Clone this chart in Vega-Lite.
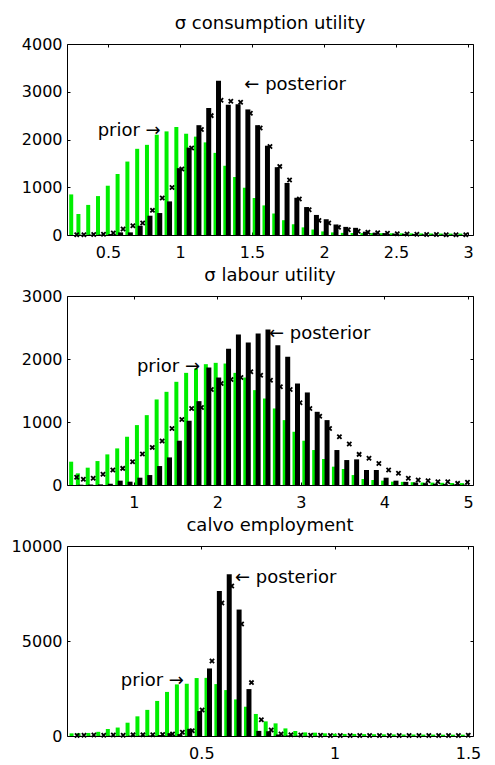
{
  "$schema": "https://vega.github.io/schema/vega-lite/v6.json",
  "padding": {"left": 10, "top": 14, "right": 16, "bottom": 5},
  "background": "white",
  "spacing": 61,
  "bounds": "flush",
  "config": {
    "font": "DejaVu Sans",
    "view": {"stroke": "black", "strokeWidth": 1},
    "axis": {"grid": false, "domain": false, "title": null, "tickColor": "black", "tickSize": -3, "labelColor": "black", "labelFontSize": 16, "labelFont": "DejaVu Sans", "labelFlush": false, "labelOverlap": false},
    "title": {"font": "DejaVu Sans", "fontSize": 18, "fontWeight": "normal", "color": "black", "anchor": "middle", "baseline": "alphabetic", "offset": 3}
  },
  "datasets": {
    "p1": [
      {"c": 0.255, "prior": 850, "post": 0, "mark": 5},
      {"c": 0.305, "prior": 440, "post": 5, "mark": 5},
      {"c": 0.373, "prior": 630, "post": 8, "mark": 10},
      {"c": 0.441, "prior": 815, "post": 10, "mark": 15},
      {"c": 0.509, "prior": 1032, "post": 20, "mark": 40},
      {"c": 0.577, "prior": 1277, "post": 55, "mark": 125},
      {"c": 0.645, "prior": 1538, "post": 55, "mark": 194},
      {"c": 0.713, "prior": 1805, "post": 194, "mark": 250},
      {"c": 0.781, "prior": 1888, "post": 404, "mark": 516},
      {"c": 0.849, "prior": 2100, "post": 460, "mark": 775},
      {"c": 0.917, "prior": 2170, "post": 704, "mark": 997},
      {"c": 0.985, "prior": 2262, "post": 1400, "mark": 1380},
      {"c": 1.053, "prior": 2121, "post": 1830, "mark": 1822},
      {"c": 1.121, "prior": 2060, "post": 2300, "mark": 2210},
      {"c": 1.189, "prior": 1940, "post": 2660, "mark": 2500},
      {"c": 1.257, "prior": 1720, "post": 3230, "mark": 2820},
      {"c": 1.325, "prior": 1450, "post": 2730, "mark": 2800},
      {"c": 1.393, "prior": 1215, "post": 2740, "mark": 2780},
      {"c": 1.461, "prior": 990, "post": 2630, "mark": 2550},
      {"c": 1.529, "prior": 775, "post": 2300, "mark": 2240},
      {"c": 1.597, "prior": 620, "post": 1870, "mark": 1855},
      {"c": 1.665, "prior": 450, "post": 1420, "mark": 1437},
      {"c": 1.733, "prior": 310, "post": 1090, "mark": 1150},
      {"c": 1.801, "prior": 225, "post": 780, "mark": 754},
      {"c": 1.869, "prior": 160, "post": 585, "mark": 530},
      {"c": 1.937, "prior": 115, "post": 420, "mark": 306},
      {"c": 2.005, "prior": 75, "post": 330, "mark": 251},
      {"c": 2.073, "prior": 55, "post": 220, "mark": 160},
      {"c": 2.141, "prior": 45, "post": 170, "mark": 110},
      {"c": 2.209, "prior": 42, "post": 150, "mark": 80},
      {"c": 2.277, "prior": 40, "post": 70, "mark": 60},
      {"c": 2.345, "prior": 40, "post": 50, "mark": 45},
      {"c": 2.413, "prior": 38, "post": 40, "mark": 35},
      {"c": 2.481, "prior": 36, "post": 30, "mark": 25},
      {"c": 2.549, "prior": 35, "post": 25, "mark": 20},
      {"c": 2.617, "prior": 34, "post": 20, "mark": 15},
      {"c": 2.685, "prior": 33, "post": 15, "mark": 10},
      {"c": 2.753, "prior": 32, "post": 12, "mark": 10},
      {"c": 2.821, "prior": 31, "post": 10, "mark": 5},
      {"c": 2.889, "prior": 30, "post": 8, "mark": 5},
      {"c": 2.957, "prior": 30, "post": 5, "mark": 5}
    ],
    "a1": [
      {"x": 0.428, "y": 2184, "label": "prior  →"},
      {"x": 1.447, "y": 3148, "label": "←  posterior"}
    ],
    "p2": [
      {"c": 0.268, "prior": 370, "post": 0, "mark": 122},
      {"c": 0.348, "prior": 185, "post": 5, "mark": 90},
      {"c": 0.466, "prior": 275, "post": 8, "mark": 106},
      {"c": 0.583, "prior": 380, "post": 10, "mark": 169},
      {"c": 0.701, "prior": 486, "post": 20, "mark": 238},
      {"c": 0.819, "prior": 581, "post": 69, "mark": 264},
      {"c": 0.937, "prior": 766, "post": 53, "mark": 370},
      {"c": 1.055, "prior": 951, "post": 116, "mark": 491},
      {"c": 1.173, "prior": 1109, "post": 158, "mark": 597},
      {"c": 1.291, "prior": 1358, "post": 301, "mark": 697},
      {"c": 1.409, "prior": 1479, "post": 438, "mark": 898},
      {"c": 1.527, "prior": 1638, "post": 703, "mark": 1041},
      {"c": 1.644, "prior": 1780, "post": 1020, "mark": 1215},
      {"c": 1.762, "prior": 1849, "post": 1331, "mark": 1231},
      {"c": 1.880, "prior": 1918, "post": 1865, "mark": 1516},
      {"c": 1.998, "prior": 1939, "post": 1706, "mark": 1611},
      {"c": 2.116, "prior": 1928, "post": 2161, "mark": 1675},
      {"c": 2.234, "prior": 1780, "post": 2388, "mark": 1706},
      {"c": 2.352, "prior": 1706, "post": 2261, "mark": 1796},
      {"c": 2.470, "prior": 1506, "post": 2404, "mark": 1743},
      {"c": 2.588, "prior": 1373, "post": 2467, "mark": 1664},
      {"c": 2.706, "prior": 1215, "post": 2219, "mark": 1558},
      {"c": 2.824, "prior": 1030, "post": 2034, "mark": 1516},
      {"c": 2.941, "prior": 845, "post": 1611, "mark": 1305},
      {"c": 3.059, "prior": 703, "post": 1469, "mark": 1215},
      {"c": 3.177, "prior": 555, "post": 1162, "mark": 1093},
      {"c": 3.295, "prior": 412, "post": 1030, "mark": 898},
      {"c": 3.413, "prior": 291, "post": 555, "mark": 766},
      {"c": 3.531, "prior": 254, "post": 396, "mark": 650},
      {"c": 3.649, "prior": 158, "post": 407, "mark": 486},
      {"c": 3.767, "prior": 95, "post": 238, "mark": 423},
      {"c": 3.885, "prior": 79, "post": 238, "mark": 343},
      {"c": 4.002, "prior": 69, "post": 116, "mark": 238},
      {"c": 4.120, "prior": 53, "post": 69, "mark": 185},
      {"c": 4.238, "prior": 50, "post": 50, "mark": 106},
      {"c": 4.356, "prior": 45, "post": 40, "mark": 79},
      {"c": 4.474, "prior": 40, "post": 30, "mark": 69},
      {"c": 4.592, "prior": 38, "post": 20, "mark": 53},
      {"c": 4.710, "prior": 35, "post": 15, "mark": 53},
      {"c": 4.828, "prior": 32, "post": 10, "mark": 26},
      {"c": 4.946, "prior": 30, "post": 8, "mark": 42}
    ],
    "a2": [
      {"x": 1.037, "y": 1875, "label": "prior  →"},
      {"x": 2.617, "y": 2404, "label": "←  posterior"}
    ],
    "p3": [
      {"c": 0.019, "prior": 140, "post": 0, "mark": 30},
      {"c": 0.045, "prior": 150, "post": 10, "mark": 40},
      {"c": 0.082, "prior": 160, "post": 10, "mark": 50},
      {"c": 0.119, "prior": 220, "post": 10, "mark": 40},
      {"c": 0.155, "prior": 370, "post": 15, "mark": 50},
      {"c": 0.192, "prior": 445, "post": 15, "mark": 40},
      {"c": 0.229, "prior": 700, "post": 20, "mark": 60},
      {"c": 0.266, "prior": 1035, "post": 20, "mark": 60},
      {"c": 0.303, "prior": 1375, "post": 30, "mark": 70},
      {"c": 0.340, "prior": 1845, "post": 50, "mark": 80},
      {"c": 0.377, "prior": 2320, "post": 150, "mark": 100},
      {"c": 0.414, "prior": 2716, "post": 100, "mark": 200},
      {"c": 0.451, "prior": 2750, "post": 380, "mark": 280},
      {"c": 0.488, "prior": 3050, "post": 1313, "mark": 1366},
      {"c": 0.525, "prior": 3060, "post": 3555, "mark": 3950},
      {"c": 0.562, "prior": 2732, "post": 7636, "mark": 7005},
      {"c": 0.599, "prior": 2417, "post": 8511, "mark": 7898},
      {"c": 0.636, "prior": 1926, "post": 6655, "mark": 5900},
      {"c": 0.673, "prior": 1541, "post": 2469, "mark": 2810},
      {"c": 0.710, "prior": 1160, "post": 270, "mark": 860},
      {"c": 0.747, "prior": 770, "post": 250, "mark": 320},
      {"c": 0.784, "prior": 665, "post": 80, "mark": 100},
      {"c": 0.821, "prior": 400, "post": 30, "mark": 60},
      {"c": 0.858, "prior": 263, "post": 20, "mark": 50},
      {"c": 0.895, "prior": 190, "post": 10, "mark": 40},
      {"c": 0.932, "prior": 175, "post": 10, "mark": 40},
      {"c": 0.969, "prior": 140, "post": 5, "mark": 30},
      {"c": 1.006, "prior": 120, "post": 5, "mark": 30},
      {"c": 1.043, "prior": 110, "post": 5, "mark": 30},
      {"c": 1.079, "prior": 110, "post": 5, "mark": 30},
      {"c": 1.116, "prior": 100, "post": 5, "mark": 30},
      {"c": 1.153, "prior": 95, "post": 5, "mark": 30},
      {"c": 1.190, "prior": 90, "post": 5, "mark": 30},
      {"c": 1.227, "prior": 85, "post": 5, "mark": 30},
      {"c": 1.264, "prior": 80, "post": 5, "mark": 30},
      {"c": 1.301, "prior": 80, "post": 5, "mark": 30},
      {"c": 1.338, "prior": 75, "post": 5, "mark": 30},
      {"c": 1.375, "prior": 75, "post": 5, "mark": 30},
      {"c": 1.412, "prior": 70, "post": 5, "mark": 30},
      {"c": 1.449, "prior": 70, "post": 5, "mark": 30},
      {"c": 1.486, "prior": 70, "post": 5, "mark": 40}
    ],
    "a3": [
      {"x": 0.198, "y": 2889, "label": "prior  →"},
      {"x": 0.626, "y": 8335, "label": "←  posterior"}
    ]
  },
  "vconcat": [
    {
      "width": 406, "height": 191,
      "title": {"text": "σ consumption utility"},
      "data": {"name": "p1"},
      "layer": [
        {
          "mark": {"type": "bar", "orient": "vertical", "size": 4, "xOffset": -1.5, "color": "#00ee00", "clip": true},
          "encoding": {
            "x": {"field": "c", "type": "quantitative", "scale": {"domain": [0.25, 3], "nice": false, "zero": false},
                  "axis": {"orient": "bottom", "values": [0.5, 1, 1.5, 2, 2.5, 3], "format": "~g", "labelPadding": 12}},
            "y": {"field": "prior", "type": "quantitative", "scale": {"domain": [0, 4000], "nice": false},
                  "axis": {"orient": "left", "values": [0, 1000, 2000, 3000, 4000], "format": "d", "labelPadding": 8}}
          }
        },
        {
          "mark": {"type": "bar", "orient": "vertical", "size": 5, "xOffset": 1.5, "color": "#000000", "clip": true},
          "encoding": {
            "x": {"field": "c", "type": "quantitative", "scale": {"domain": [0.25, 3], "nice": false, "zero": false},
                  "axis": {"orient": "top", "values": [0.5, 1, 1.5, 2, 2.5, 3], "labels": false}},
            "y": {"field": "post", "type": "quantitative", "scale": {"domain": [0, 4000], "nice": false},
                  "axis": {"orient": "right", "values": [0, 1000, 2000, 3000, 4000], "labels": false}}
          }
        },
        {
          "mark": {"type": "point", "shape": "M-1,-1L1,1M-1,1L1,-1", "filled": false, "stroke": "black", "strokeWidth": 1.8, "size": 18, "xOffset": 4, "opacity": 1},
          "encoding": {
            "x": {"field": "c", "type": "quantitative", "scale": {"domain": [0.25, 3], "nice": false, "zero": false}, "axis": null},
            "y": {"field": "mark", "type": "quantitative", "scale": {"domain": [0, 4000], "nice": false}, "axis": null}
          }
        },
        {
          "data": {"name": "a1"},
          "mark": {"type": "text", "align": "left", "baseline": "middle", "fontSize": 18, "font": "DejaVu Sans", "color": "black"},
          "encoding": {
            "x": {"field": "x", "type": "quantitative", "scale": {"domain": [0.25, 3], "nice": false, "zero": false}, "axis": null},
            "y": {"field": "y", "type": "quantitative", "scale": {"domain": [0, 4000], "nice": false}, "axis": null},
            "text": {"field": "label"}
          }
        }
      ],
      "resolve": {"axis": {"x": "independent", "y": "independent"}}
    },
    {
      "width": 406, "height": 189,
      "title": {"text": "σ labour utility"},
      "data": {"name": "p2"},
      "layer": [
        {
          "mark": {"type": "bar", "orient": "vertical", "size": 4, "xOffset": -1.5, "color": "#00ee00", "clip": true},
          "encoding": {
            "x": {"field": "c", "type": "quantitative", "scale": {"domain": [0.26, 5], "nice": false, "zero": false},
                  "axis": {"orient": "bottom", "values": [1, 2, 3, 4, 5], "format": "~g", "labelPadding": 12}},
            "y": {"field": "prior", "type": "quantitative", "scale": {"domain": [0, 3000], "nice": false},
                  "axis": {"orient": "left", "values": [0, 1000, 2000, 3000], "format": "d", "labelPadding": 8}}
          }
        },
        {
          "mark": {"type": "bar", "orient": "vertical", "size": 5, "xOffset": 1.5, "color": "#000000", "clip": true},
          "encoding": {
            "x": {"field": "c", "type": "quantitative", "scale": {"domain": [0.26, 5], "nice": false, "zero": false},
                  "axis": {"orient": "top", "values": [1, 2, 3, 4, 5], "labels": false}},
            "y": {"field": "post", "type": "quantitative", "scale": {"domain": [0, 3000], "nice": false},
                  "axis": {"orient": "right", "values": [0, 1000, 2000, 3000], "labels": false}}
          }
        },
        {
          "mark": {"type": "point", "shape": "M-1,-1L1,1M-1,1L1,-1", "filled": false, "stroke": "black", "strokeWidth": 1.8, "size": 18, "xOffset": 4, "opacity": 1},
          "encoding": {
            "x": {"field": "c", "type": "quantitative", "scale": {"domain": [0.26, 5], "nice": false, "zero": false}, "axis": null},
            "y": {"field": "mark", "type": "quantitative", "scale": {"domain": [0, 3000], "nice": false}, "axis": null}
          }
        },
        {
          "data": {"name": "a2"},
          "mark": {"type": "text", "align": "left", "baseline": "middle", "fontSize": 18, "font": "DejaVu Sans", "color": "black"},
          "encoding": {
            "x": {"field": "x", "type": "quantitative", "scale": {"domain": [0.26, 5], "nice": false, "zero": false}, "axis": null},
            "y": {"field": "y", "type": "quantitative", "scale": {"domain": [0, 3000], "nice": false}, "axis": null},
            "text": {"field": "label"}
          }
        }
      ],
      "resolve": {"axis": {"x": "independent", "y": "independent"}}
    },
    {
      "width": 406, "height": 190,
      "title": {"text": "calvo employment"},
      "data": {"name": "p3"},
      "layer": [
        {
          "mark": {"type": "bar", "orient": "vertical", "size": 4, "xOffset": -1.5, "color": "#00ee00", "clip": true},
          "encoding": {
            "x": {"field": "c", "type": "quantitative", "scale": {"domain": [0.015, 1.5], "nice": false, "zero": false},
                  "axis": {"orient": "bottom", "values": [0.5, 1, 1.5], "format": "~g", "labelPadding": 12}},
            "y": {"field": "prior", "type": "quantitative", "scale": {"domain": [0, 10000], "nice": false},
                  "axis": {"orient": "left", "values": [0, 5000, 10000], "format": "d", "labelPadding": 8}}
          }
        },
        {
          "mark": {"type": "bar", "orient": "vertical", "size": 5, "xOffset": 1.5, "color": "#000000", "clip": true},
          "encoding": {
            "x": {"field": "c", "type": "quantitative", "scale": {"domain": [0.015, 1.5], "nice": false, "zero": false},
                  "axis": {"orient": "top", "values": [0.5, 1, 1.5], "labels": false}},
            "y": {"field": "post", "type": "quantitative", "scale": {"domain": [0, 10000], "nice": false},
                  "axis": {"orient": "right", "values": [0, 5000, 10000], "labels": false}}
          }
        },
        {
          "mark": {"type": "point", "shape": "M-1,-1L1,1M-1,1L1,-1", "filled": false, "stroke": "black", "strokeWidth": 1.8, "size": 18, "xOffset": 4, "opacity": 1},
          "encoding": {
            "x": {"field": "c", "type": "quantitative", "scale": {"domain": [0.015, 1.5], "nice": false, "zero": false}, "axis": null},
            "y": {"field": "mark", "type": "quantitative", "scale": {"domain": [0, 10000], "nice": false}, "axis": null}
          }
        },
        {
          "data": {"name": "a3"},
          "mark": {"type": "text", "align": "left", "baseline": "middle", "fontSize": 18, "font": "DejaVu Sans", "color": "black"},
          "encoding": {
            "x": {"field": "x", "type": "quantitative", "scale": {"domain": [0.015, 1.5], "nice": false, "zero": false}, "axis": null},
            "y": {"field": "y", "type": "quantitative", "scale": {"domain": [0, 10000], "nice": false}, "axis": null},
            "text": {"field": "label"}
          }
        }
      ],
      "resolve": {"axis": {"x": "independent", "y": "independent"}}
    }
  ]
}
